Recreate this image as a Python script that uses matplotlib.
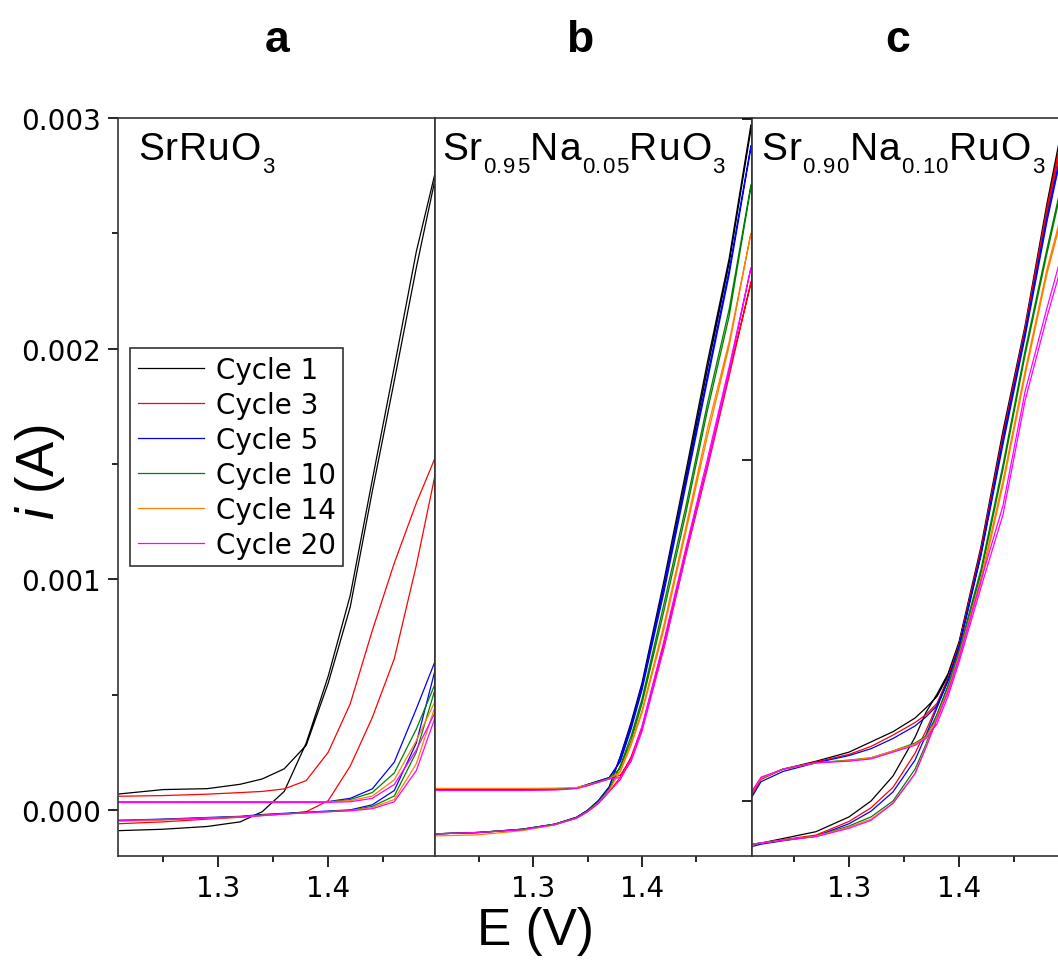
import numpy as np
import matplotlib
matplotlib.use("Agg")
import matplotlib.pyplot as plt
from matplotlib.ticker import MultipleLocator, FixedLocator, FormatStrFormatter
from matplotlib.transforms import offset_copy

plt.rcParams['font.family'] = ['Liberation Sans', 'DejaVu Sans']
plt.rcParams['mathtext.fontset'] = 'custom'
plt.rcParams['mathtext.rm'] = 'Liberation Sans'
plt.rcParams['mathtext.it'] = 'Liberation Sans:italic'

# cycles shown in the legend and their colours
cycles = ["Cycle 1", "Cycle 3", "Cycle 5", "Cycle 10", "Cycle 14", "Cycle 20"]
colors = ["#000000", "#ff0000", "#0000ff", "#008000", "#ff8000", "#ff00ff"]
# panel titles as (text, is_subscript) pieces
title_a = [("SrRuO", False), ("3", True)]
title_b = [("Sr", False), ("0.95", True), ("Na", False), ("0.05", True), ("RuO", False), ("3", True)]
title_c = [("Sr", False), ("0.90", True), ("Na", False), ("0.10", True), ("RuO", False), ("3", True)]
letters = ["a", "b", "c"]

# ---- panel a : SrRuO3 (current in mA, potential in V) ----
Ea = [1.21, 1.25, 1.29, 1.32, 1.34, 1.36, 1.38, 1.40, 1.42, 1.44, 1.46, 1.48, 1.50]
a_upper = [
    [0.069, 0.088, 0.092, 0.111, 0.134, 0.178, 0.28, 0.55, 0.88, 1.38, 1.86, 2.35, 2.80],
    [0.059, 0.062, 0.068, 0.075, 0.080, 0.091, 0.127, 0.25, 0.46, 0.777, 1.07, 1.33, 1.56],
    [0.035, 0.035, 0.035, 0.035, 0.035, 0.035, 0.035, 0.036, 0.05, 0.091, 0.207, 0.438, 0.68],
    [0.033, 0.033, 0.033, 0.033, 0.033, 0.033, 0.033, 0.034, 0.045, 0.075, 0.16, 0.35, 0.58],
    [0.034, 0.034, 0.034, 0.034, 0.034, 0.034, 0.034, 0.035, 0.04, 0.06, 0.13, 0.30, 0.50],
    [0.032, 0.032, 0.032, 0.032, 0.032, 0.032, 0.032, 0.033, 0.035, 0.05, 0.11, 0.26, 0.45],
]
a_lower = [
    [-0.090, -0.084, -0.072, -0.052, -0.008, 0.08, 0.29, 0.58, 0.93, 1.43, 1.92, 2.42, 2.82],
    [-0.060, -0.052, -0.040, -0.032, -0.025, -0.018, -0.008, 0.04, 0.19, 0.40, 0.655, 1.06, 1.52],
    [-0.045, -0.040, -0.033, -0.028, -0.020, -0.015, -0.010, -0.005, 0.0, 0.022, 0.084, 0.29, 0.66],
    [-0.048, -0.042, -0.035, -0.030, -0.022, -0.017, -0.012, -0.007, -0.002, 0.015, 0.06, 0.25, 0.57],
    [-0.050, -0.044, -0.036, -0.031, -0.024, -0.018, -0.013, -0.008, -0.003, 0.01, 0.045, 0.20, 0.49],
    [-0.045, -0.042, -0.036, -0.031, -0.024, -0.018, -0.013, -0.008, -0.004, 0.005, 0.035, 0.17, 0.44],
]

# ---- panel b : Sr0.95Na0.05RuO3 ----
Eb = [1.21, 1.25, 1.29, 1.32, 1.34, 1.35, 1.36, 1.37, 1.38, 1.39, 1.40, 1.42, 1.44, 1.46, 1.48, 1.50]
b_upper = [
    [0.088, 0.088, 0.088, 0.090, 0.095, 0.110, 0.125, 0.140, 0.21, 0.36, 0.53, 0.96, 1.43, 1.91, 2.37, 2.95],
    [0.088, 0.092, 0.088, 0.090, 0.095, 0.105, 0.120, 0.135, 0.15, 0.22, 0.35, 0.70, 1.10, 1.48, 1.88, 2.29],
    [0.087, 0.087, 0.087, 0.089, 0.095, 0.110, 0.125, 0.140, 0.21, 0.35, 0.52, 0.94, 1.40, 1.86, 2.32, 2.87],
    [0.087, 0.087, 0.087, 0.089, 0.094, 0.108, 0.122, 0.137, 0.18, 0.30, 0.46, 0.86, 1.28, 1.73, 2.14, 2.70],
    [0.093, 0.093, 0.093, 0.094, 0.097, 0.108, 0.120, 0.135, 0.165, 0.28, 0.42, 0.78, 1.20, 1.62, 2.01, 2.50],
    [0.084, 0.084, 0.084, 0.086, 0.092, 0.105, 0.120, 0.134, 0.14, 0.21, 0.34, 0.70, 1.10, 1.49, 1.90, 2.35],
]
b_lower = [
    [-0.104, -0.098, -0.084, -0.062, -0.032, -0.002, 0.040, 0.10, 0.23, 0.38, 0.55, 0.99, 1.46, 1.94, 2.39, 2.97],
    [-0.104, -0.098, -0.086, -0.064, -0.036, -0.008, 0.028, 0.08, 0.14, 0.23, 0.36, 0.72, 1.12, 1.50, 1.90, 2.28],
    [-0.104, -0.098, -0.084, -0.062, -0.032, -0.002, 0.040, 0.10, 0.23, 0.37, 0.54, 0.97, 1.42, 1.88, 2.34, 2.88],
    [-0.104, -0.098, -0.084, -0.062, -0.034, -0.005, 0.035, 0.09, 0.19, 0.32, 0.48, 0.89, 1.31, 1.76, 2.17, 2.71],
    [-0.113, -0.108, -0.090, -0.065, -0.036, -0.008, 0.030, 0.085, 0.17, 0.29, 0.43, 0.80, 1.22, 1.65, 2.03, 2.50],
    [-0.104, -0.098, -0.086, -0.064, -0.036, -0.008, 0.028, 0.08, 0.13, 0.22, 0.36, 0.73, 1.13, 1.52, 1.92, 2.35],
]

# ---- panel c : Sr0.90Na0.10RuO3 ----
Ec = [1.212, 1.22, 1.24, 1.27, 1.30, 1.32, 1.34, 1.36, 1.37, 1.38, 1.39, 1.40, 1.42, 1.44, 1.46, 1.48, 1.50]
c_upper = [
    [0.040, 0.100, 0.140, 0.175, 0.215, 0.260, 0.305, 0.365, 0.410, 0.46, 0.55, 0.69, 1.10, 1.61, 2.07, 2.60, 3.10],
    [0.030, 0.095, 0.140, 0.172, 0.205, 0.240, 0.290, 0.345, 0.380, 0.43, 0.54, 0.68, 1.09, 1.59, 2.06, 2.58, 3.06],
    [0.020, 0.085, 0.130, 0.168, 0.200, 0.230, 0.275, 0.330, 0.370, 0.42, 0.53, 0.67, 1.08, 1.57, 2.04, 2.55, 3.00],
    [0.045, 0.100, 0.140, 0.168, 0.180, 0.190, 0.220, 0.255, 0.285, 0.38, 0.50, 0.65, 1.00, 1.46, 1.96, 2.41, 2.84],
    [0.040, 0.100, 0.140, 0.168, 0.178, 0.190, 0.220, 0.250, 0.280, 0.36, 0.48, 0.63, 0.96, 1.39, 1.87, 2.32, 2.69],
    [0.045, 0.105, 0.140, 0.168, 0.175, 0.185, 0.215, 0.245, 0.275, 0.34, 0.46, 0.61, 0.94, 1.26, 1.76, 2.13, 2.47],
]
c_lower = [
    [-0.190, -0.185, -0.165, -0.135, -0.070, 0.000, 0.110, 0.280, 0.390, 0.47, 0.56, 0.70, 1.12, 1.63, 2.09, 2.63, 3.12],
    [-0.190, -0.185, -0.170, -0.150, -0.090, -0.030, 0.060, 0.210, 0.310, 0.42, 0.54, 0.69, 1.11, 1.61, 2.08, 2.61, 3.09],
    [-0.200, -0.190, -0.175, -0.155, -0.100, -0.045, 0.040, 0.180, 0.290, 0.41, 0.53, 0.68, 1.09, 1.59, 2.06, 2.57, 3.02],
    [-0.190, -0.185, -0.172, -0.155, -0.110, -0.070, 0.000, 0.140, 0.250, 0.38, 0.51, 0.66, 1.02, 1.48, 1.98, 2.43, 2.86],
    [-0.190, -0.185, -0.172, -0.155, -0.115, -0.080, -0.010, 0.120, 0.240, 0.37, 0.49, 0.64, 0.98, 1.41, 1.89, 2.34, 2.71],
    [-0.190, -0.185, -0.172, -0.157, -0.120, -0.085, -0.010, 0.120, 0.235, 0.36, 0.48, 0.63, 0.97, 1.30, 1.80, 2.17, 2.52],
]

W, H = 1058, 962
fig = plt.figure(figsize=(W / 100, H / 100), dpi=100)
renderer = fig.canvas.get_renderer()

# panel boxes in pixels: left, width ; shared top / bottom
lefts = [118, 435, 752]
pw = 317
top, bot = 119, 857
xlims = [(1.209, 1.497), (1.210, 1.501), (1.2118, 1.500)]
ylims = [(-0.0002, 0.003), (-0.0002, 0.003), (-0.000242, 0.003005)]
panels = [(Ea, a_upper, a_lower), (Eb, b_upper, b_lower), (Ec, c_upper, c_lower)]
titles = [title_a, title_b, title_c]
title_x = [0.063, 0.022, 0.03]
tick_font = {'family': 'DejaVu Sans', 'size': 20}


def draw_title(ax, x0, y0, pieces, track=1.0):
    # letter by letter, with a little extra spacing like the original
    dx = 0.0
    for txt, sub in pieces:
        for ch in txt:
            tr = offset_copy(ax.transAxes, fig=fig, x=dx, y=-13 if sub else 0, units='dots')
            t = ax.text(x0, y0, ch, transform=tr, fontsize=16 if sub else 28,
                        va='baseline', ha='left')
            dx += t.get_window_extent(renderer).width + track


axes = []
for k in range(3):
    ax = fig.add_axes([lefts[k] / W, 1 - bot / H, pw / W, (bot - top) / H])
    E, up, lo = panels[k]
    E = np.array(E)
    for j in range(6):
        xs = np.concatenate([E, E[::-1]])
        ys = np.concatenate([np.array(lo[j]), np.array(up[j])[::-1]]) * 1e-3
        ax.plot(xs, ys, color=colors[j], lw=0.9, label=cycles[j])
    ax.set_xlim(*xlims[k])
    ax.set_ylim(*ylims[k])
    ax.xaxis.set_major_locator(FixedLocator([1.3, 1.4]))
    ax.xaxis.set_minor_locator(FixedLocator([1.25, 1.35, 1.45]))
    ax.xaxis.set_major_formatter(FormatStrFormatter('%.1f'))
    ax.tick_params(axis='x', which='major', direction='out', length=8, width=1.2, pad=5)
    ax.tick_params(axis='x', which='minor', direction='out', length=4, width=1.2)
    for lab in ax.get_xticklabels():
        lab.set_fontproperties(tick_font)
    for s in ax.spines.values():
        s.set_linewidth(1.2)
        s.set_color('#333333')
    draw_title(ax, title_x[k], 0.944, titles[k])
    axes.append(ax)

axa, axb, axc = axes
axa.yaxis.set_major_locator(MultipleLocator(0.001))
axa.yaxis.set_minor_locator(MultipleLocator(0.0005))
axa.yaxis.set_major_formatter(FormatStrFormatter('%.3f'))
axa.tick_params(axis='y', which='major', direction='out', length=7, width=1.2, pad=5)
axa.tick_params(axis='y', which='minor', direction='out', length=4, width=1.2)
for lab in axa.get_yticklabels():
    lab.set_fontproperties(tick_font)

axb.set_yticks([])
axc.yaxis.set_major_locator(FixedLocator([0.0, 0.0015, 0.003]))
axc.yaxis.set_minor_locator(FixedLocator([]))
axc.tick_params(axis='y', which='major', direction='out', length=7, width=1.2,
                labelleft=False)

leg = axa.legend(loc='upper left', bbox_to_anchor=(130 / W, 1 - 349 / H),
                 bbox_transform=fig.transFigure, borderaxespad=0,
                 prop={'family': 'DejaVu Sans', 'size': 20},
                 frameon=True, fancybox=False, framealpha=1, edgecolor='#333333',
                 handlelength=2.4, handletextpad=0.4, labelspacing=0.25, borderpad=0.28)
leg.get_frame().set_linewidth(1.2)

# panel letters
for k, x in enumerate([277, 580, 898]):
    fig.text(x / W, 1 - 40 / H, letters[k], fontsize=32, fontweight='bold',
             ha='center', va='center')

# axis labels
fig.text(535 / W, 1 - 932 / H, "E (V)", fontsize=37, ha='center', va='center')
fig.text(40 / W, 1 - 472 / H, r"$\mathit{i}$ (A)", fontsize=38, ha='center',
         va='center', rotation=90)

fig.savefig("out.png", dpi=100)
